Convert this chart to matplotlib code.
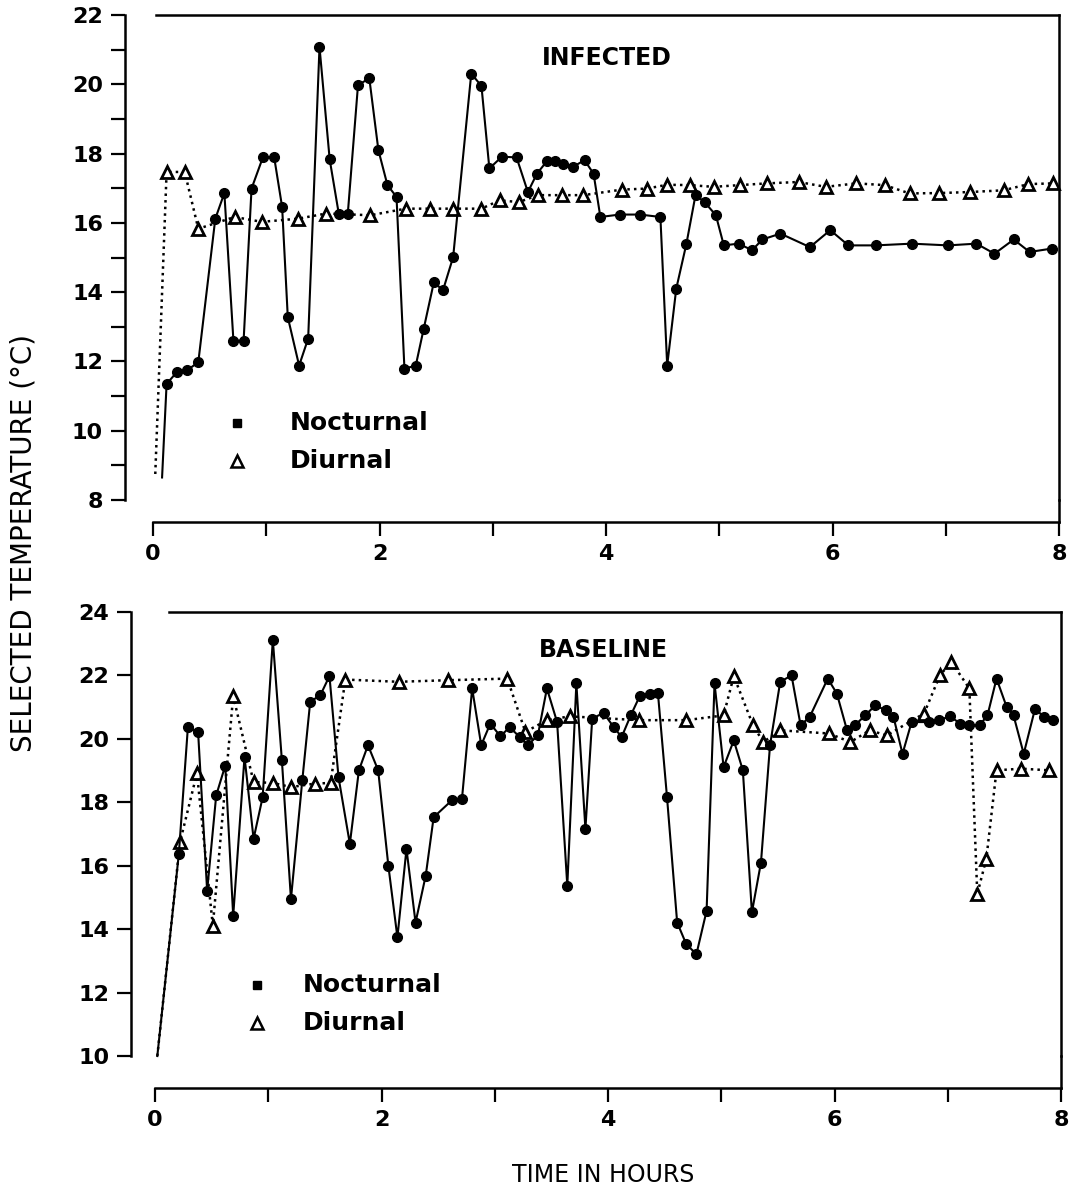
"""Selected temperature over time: infected vs baseline, nocturnal vs diurnal."""

import matplotlib
matplotlib.use("Agg")
import matplotlib.pyplot as plt
from matplotlib.ticker import FixedLocator, FuncFormatter

# ---------------------------------------------------------------------------
# Data (first point of each series is the line start)
# ---------------------------------------------------------------------------

inf_noc_hours = [0.08, 0.12, 0.21, 0.30, 0.40, 0.55, 0.63, 0.71, 0.80, 0.87,
                 0.97, 1.07, 1.14, 1.19, 1.29, 1.37, 1.47, 1.56, 1.64, 1.72,
                 1.81, 1.91, 1.99, 2.07, 2.15, 2.22, 2.32, 2.39, 2.48, 2.56,
                 2.65, 2.81, 2.90, 2.97, 3.08, 3.21, 3.31, 3.39, 3.48, 3.55,
                 3.62, 3.71, 3.81, 3.89, 3.95, 4.12, 4.30, 4.48, 4.54, 4.62,
                 4.71, 4.79, 4.87, 4.97, 5.04, 5.17, 5.29, 5.38, 5.54, 5.80,
                 5.98, 6.14, 6.38, 6.70, 7.02, 7.27, 7.43, 7.60, 7.74, 7.94]
inf_noc_temp = [8.65, 11.35, 11.69, 11.74, 11.98, 16.12, 16.86, 12.6, 12.6, 16.99,
                17.89, 17.89, 16.46, 13.28, 11.88, 12.66, 21.08, 17.83, 16.27, 16.27,
                19.98, 20.17, 18.1, 17.09, 16.75, 11.79, 11.88, 12.94, 14.29, 14.05,
                15.01, 20.31, 19.95, 17.57, 17.91, 17.89, 16.89, 17.42, 17.79, 17.79,
                17.71, 17.62, 17.81, 17.42, 16.17, 16.24, 16.24, 16.17, 11.88, 14.1,
                15.4, 16.8, 16.6, 16.22, 15.35, 15.4, 15.21, 15.52, 15.69, 15.3,
                15.79, 15.35, 15.35, 15.4, 15.35, 15.4, 15.11, 15.52, 15.16, 15.26]

inf_diu_hours = [0.02, 0.12, 0.28, 0.40, 0.72, 0.96, 1.28, 1.53, 1.92, 2.23,
                 2.45, 2.65, 2.90, 3.06, 3.23, 3.40, 3.61, 3.80, 4.14, 4.36,
                 4.54, 4.74, 4.95, 5.18, 5.42, 5.70, 5.94, 6.21, 6.46, 6.68,
                 6.94, 7.21, 7.51, 7.73, 7.95]
inf_diu_temp = [8.75, 17.47, 17.47, 15.83, 16.17, 16.03, 16.12, 16.27, 16.22, 16.41,
                16.41, 16.41, 16.41, 16.65, 16.6, 16.8, 16.8, 16.8, 16.96, 16.99,
                17.1, 17.09, 17.04, 17.09, 17.14, 17.18, 17.04, 17.14, 17.09, 16.85,
                16.86, 16.89, 16.94, 17.12, 17.14]

base_noc_hours = [0.02, 0.21, 0.29, 0.38, 0.46, 0.54, 0.62, 0.69, 0.79, 0.87,
                  0.95, 1.04, 1.12, 1.20, 1.30, 1.37, 1.46, 1.54, 1.62, 1.72,
                  1.80, 1.88, 1.97, 2.06, 2.14, 2.22, 2.30, 2.39, 2.46, 2.62,
                  2.71, 2.80, 2.88, 2.96, 3.05, 3.13, 3.22, 3.29, 3.38, 3.46,
                  3.55, 3.64, 3.72, 3.80, 3.86, 3.96, 4.05, 4.12, 4.20, 4.28,
                  4.37, 4.44, 4.52, 4.61, 4.69, 4.78, 4.87, 4.94, 5.02, 5.11,
                  5.19, 5.27, 5.35, 5.43, 5.52, 5.62, 5.70, 5.78, 5.94, 6.02,
                  6.11, 6.18, 6.27, 6.36, 6.45, 6.52, 6.60, 6.68, 6.83, 6.92,
                  7.02, 7.11, 7.19, 7.28, 7.35, 7.43, 7.52, 7.58, 7.67, 7.77,
                  7.85, 7.93]
base_noc_temp = [10.0, 16.37, 20.37, 20.22, 15.21, 18.22, 19.16, 14.42, 19.43, 16.85,
                 18.16, 23.12, 19.32, 14.95, 18.69, 21.17, 21.38, 21.98, 18.79, 16.69,
                 19.01, 19.8, 19.01, 16.0, 13.74, 16.53, 14.21, 15.69, 17.53, 18.06,
                 18.11, 21.59, 19.8, 20.48, 20.08, 20.37, 20.06, 19.8, 20.11, 21.59,
                 20.53, 15.37, 21.75, 17.16, 20.64, 20.82, 20.37, 20.06, 20.74, 21.35,
                 21.43, 21.45, 18.18, 14.21, 13.53, 13.21, 14.58, 21.75, 19.11, 19.95,
                 19.01, 14.53, 16.1, 19.8, 21.8, 22.0, 20.43, 20.69, 21.9, 21.43,
                 20.27, 20.43, 20.74, 21.06, 20.9, 20.69, 19.53, 20.53, 20.53, 20.59,
                 20.71, 20.48, 20.43, 20.43, 20.74, 21.9, 21.0, 20.74, 19.53, 20.95,
                 20.69, 20.59]

base_diu_hours = [0.02, 0.22, 0.37, 0.51, 0.69, 0.87, 1.04, 1.20, 1.41, 1.55,
                  1.68, 2.15, 2.59, 3.11, 3.27, 3.46, 3.66, 4.27, 4.69, 5.02,
                  5.11, 5.28, 5.37, 5.52, 5.95, 6.14, 6.31, 6.46, 6.79, 6.93,
                  7.03, 7.19, 7.26, 7.34, 7.43, 7.65, 7.89]
base_diu_temp = [10.0, 16.74, 18.92, 14.11, 21.35, 18.64, 18.61, 18.48, 18.59, 18.61,
                 21.87, 21.8, 21.85, 21.9, 20.22, 20.59, 20.71, 20.59, 20.59, 20.74,
                 21.98, 20.43, 19.9, 20.27, 20.17, 19.9, 20.27, 20.11, 20.8, 22.0,
                 22.43, 21.59, 15.11, 16.22, 19.01, 19.06, 19.01]

panels = [
    ("INFECTED", inf_noc_hours, inf_noc_temp, inf_diu_hours, inf_diu_temp),
    ("BASELINE", base_noc_hours, base_noc_temp, base_diu_hours, base_diu_temp),
]

# ---------------------------------------------------------------------------
# Figure
# ---------------------------------------------------------------------------

plt.rcParams["font.family"] = ["DejaVu Sans"]

fig = plt.figure(figsize=(10.73, 11.93), dpi=100)
ax_top = fig.add_axes([0.1426, 0.5809, 0.8444, 0.4065])
ax_bot = fig.add_axes([0.1445, 0.1148, 0.8444, 0.3722])

# per-panel layout: y-limits, y tick step, spine offsets (pt), legend/title spots
layout = {
    ax_top: dict(ylim=(8, 22), ystep=1, left_off=20, bottom_off=16,
                 top_start=0.03, title_xy=(0.501, 0.911),
                 leg_x=0.093, leg_text_x=0.151, leg_y=(0.159, 0.080)),
    ax_bot: dict(ylim=(10, 24), ystep=2, left_off=17, bottom_off=23,
                 top_start=0.12, title_xy=(0.495, 0.914),
                 leg_x=0.113, leg_text_x=0.163, leg_y=(0.160, 0.074)),
}

for ax, (title, n_t, n_y, d_t, d_y) in zip([ax_top, ax_bot], panels):
    cfg = layout[ax]
    lo, hi = cfg["ylim"]

    # ---- series ---------------------------------------------------------
    ax.plot(d_t, d_y, linestyle=":", color="black", linewidth=1.8,
            marker="^", markersize=9, markerfacecolor="white",
            markeredgecolor="black", markeredgewidth=2.0,
            markevery=list(range(1, len(d_t))), zorder=2, clip_on=False)
    ax.plot(n_t, n_y, linestyle="-", color="black", linewidth=1.5,
            marker="o", markersize=7, markerfacecolor="black",
            markeredgecolor="black",
            markevery=list(range(1, len(n_t))), zorder=3, clip_on=False)

    # ---- axes styling ---------------------------------------------------
    ax.set_xlim(0, 8)
    ax.set_ylim(lo, hi)
    ax.spines["left"].set_position(("outward", cfg["left_off"]))
    ax.spines["bottom"].set_position(("outward", cfg["bottom_off"]))
    ax.spines["left"].set_bounds(lo, hi)
    ax.spines["bottom"].set_bounds(0, 8)
    ax.spines["top"].set_bounds(cfg["top_start"], 8)
    for side in ["left", "bottom", "top", "right"]:
        ax.spines[side].set_linewidth(1.8)
    # right frame line continues down to the offset x axis
    ax.plot([1, 1], [0, -cfg["bottom_off"] / 72 * 100 / ax.bbox.height],
            transform=ax.transAxes, color="black", linewidth=1.8,
            clip_on=False)

    ax.xaxis.set_major_locator(FixedLocator(range(0, 9)))
    ax.xaxis.set_major_formatter(
        FuncFormatter(lambda v, p: f"{int(v)}" if int(v) % 2 == 0 else ""))
    ax.yaxis.set_major_locator(FixedLocator(range(lo, hi + 1, cfg["ystep"])))
    ax.yaxis.set_major_formatter(
        FuncFormatter(lambda v, p: f"{int(v)}" if int(v) % 2 == 0 else ""))
    ax.tick_params(axis="both", direction="out", length=10, width=1.6,
                   labelsize=16, pad=6)
    for lbl in ax.get_xticklabels() + ax.get_yticklabels():
        lbl.set_fontweight("bold")

    # ---- panel title + hand-made legend ---------------------------------
    ax.text(*cfg["title_xy"], title, transform=ax.transAxes, ha="center",
            va="center", fontsize=17, fontweight="bold")
    y_n, y_d = cfg["leg_y"]
    ax.plot([cfg["leg_x"]], [y_n], transform=ax.transAxes, marker="s",
            markersize=6, color="black", linestyle="none", clip_on=False)
    ax.plot([cfg["leg_x"]], [y_d], transform=ax.transAxes, marker="^",
            markersize=8, markerfacecolor="white", markeredgecolor="black",
            markeredgewidth=1.8, linestyle="none", clip_on=False)
    ax.text(cfg["leg_text_x"], y_n, "Nocturnal", transform=ax.transAxes,
            ha="left", va="center", fontsize=18, fontweight="bold")
    ax.text(cfg["leg_text_x"], y_d, "Diurnal", transform=ax.transAxes,
            ha="left", va="center", fontsize=18, fontweight="bold")

fig.text(0.022, 0.545, "SELECTED TEMPERATURE (°C)", rotation=90,
         ha="center", va="center", fontsize=20)
fig.text(0.562, 0.015, "TIME IN HOURS", ha="center", va="center",
         fontsize=17)

fig.savefig("out.png", dpi=100)
